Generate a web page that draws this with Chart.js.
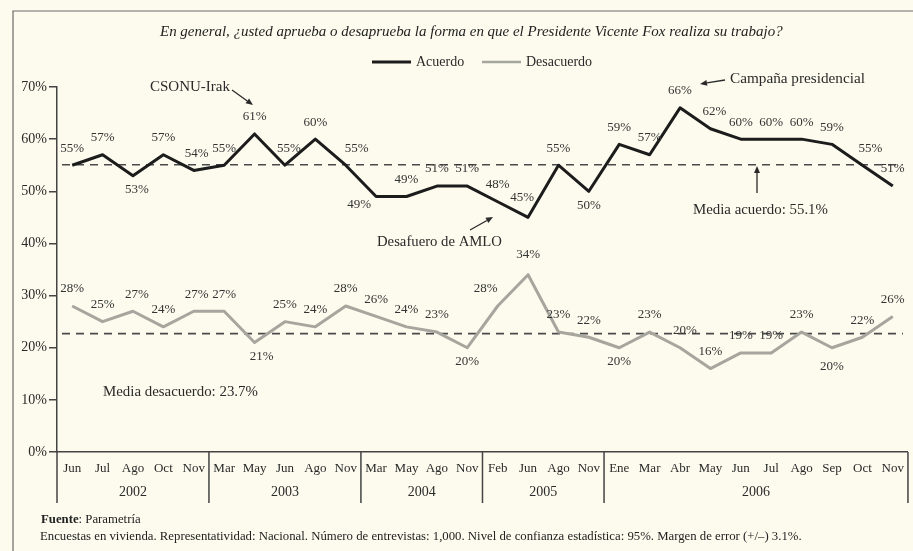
<!DOCTYPE html>
<html>
<head>
<meta charset="utf-8">
<script src="https://cdn.jsdelivr.net/npm/chart.js@4.4.1/dist/chart.umd.min.js"></script>
<style>
  html, body { margin: 0; padding: 0; background: #fcfbee; }
  #wrap { width: 913px; height: 551px; position: relative; }
  canvas { display: block; }
</style>
</head>
<body>
<div id="wrap"><canvas id="c" width="913" height="551"></canvas></div>
<script>
// ---------------- DATA ----------------
const MONTHS = ['Jun','Jul','Ago','Oct','Nov',
                'Mar','May','Jun','Ago','Nov',
                'Mar','May','Ago','Nov',
                'Feb','Jun','Ago','Nov',
                'Ene','Mar','Abr','May','Jun','Jul','Ago','Sep','Oct','Nov'];
const YEARS = ['2002','2003','2004','2005','2006'];
const YEAR_SIZES = [5, 5, 4, 4, 10];
const ACUERDO = [55,57,53,57,54, 55,61,55,60,55, 49,49,51,51, 48,45,55,50, 59,57,66,62,60,60,60,59,55,51];
const DESACUERDO = [28,25,27,24,27, 27,21,25,24,28, 26,24,23,20, 28,34,23,22, 20,23,20,16,19,19,23,20,22,26];
const Y_TICKS = [0,10,20,30,40,50,60,70];
const MEDIA_ACUERDO = 55.1;
const MEDIA_DESACUERDO = 23.7;
const MEDIA_DESACUERDO_DRAWN = 22.7;   // where the dashed line sits in the picture

const TITLE = 'En general, ¿usted aprueba o desaprueba la forma en que el Presidente Vicente Fox realiza su trabajo?';
const SERIES_NAMES = ['Acuerdo', 'Desacuerdo'];
const FOOT_SOURCE = ['Fuente', ': Parametría'];
const FOOT_NOTE = 'Encuestas en vivienda. Representatividad: Nacional. Número de entrevistas: 1,000. Nivel de confianza estadística: 95%. Margen de error (+/–) 3.1%.';

// ---------------- LABEL PLACEMENT (style only) ----------------
const ACUERDO_SIDE    = 'aabaaaaaaabaaaaaabaaaaaaaaaa';
const DESACUERDO_SIDE = 'aaaaaabaaaaaabaaaabaaaaaabaa';
const ACUERDO_DX = {2:4, 4:3, 7:4, 9:11, 10:-17, 15:-6, 21:4, 26:8};
const ACUERDO_DY = {10:-6, 15:-3};
const DESACUERDO_DX = {2:4, 4:3, 6:7, 14:-12, 20:5};
const DESACUERDO_DY = {15:-3, 25:5};

const SERIF = '"Liberation Serif", "Times New Roman", serif';
const INK = '#2a2a2a';
const BG = '#fcfbee';

function fitSize(ctx, text, width, style) {
  ctx.font = style + ' 20px ' + SERIF;
  return 20 * width / ctx.measureText(text).width;
}
function fitText(ctx, text, x, y, width, style, align) {
  const s = fitSize(ctx, text, width, style);
  ctx.font = style + ' ' + s.toFixed(2) + 'px ' + SERIF;
  ctx.textAlign = align || 'left';
  ctx.textBaseline = 'middle';
  ctx.fillText(text, x, y);
}
function arrow(ctx, x1, y1, x2, y2) {
  const a = Math.atan2(y2 - y1, x2 - x1), L = 7, W = 3;
  const bx = x2 - L * Math.cos(a), by = y2 - L * Math.sin(a);
  ctx.save();
  ctx.strokeStyle = INK; ctx.fillStyle = INK; ctx.lineWidth = 1.3;
  ctx.beginPath(); ctx.moveTo(x1, y1); ctx.lineTo(bx, by); ctx.stroke();
  ctx.beginPath(); ctx.moveTo(x2, y2);
  ctx.lineTo(bx + W * Math.sin(a), by - W * Math.cos(a));
  ctx.lineTo(bx - W * Math.sin(a), by + W * Math.cos(a));
  ctx.closePath(); ctx.fill();
  ctx.restore();
}

const bgPlugin = {
  id: 'bg',
  beforeDraw(chart) {
    const c = chart.ctx;
    c.save(); c.fillStyle = BG; c.fillRect(0, 0, chart.width, chart.height); c.restore();
  },
  beforeDatasetsDraw(chart) {
    const c = chart.ctx, ca = chart.chartArea, y = chart.scales.y;
    c.save();
    c.strokeStyle = '#4a4a4a'; c.lineWidth = 1.6; c.setLineDash([8, 6]);
    [MEDIA_ACUERDO, MEDIA_DESACUERDO_DRAWN].forEach(v => {
      const py = y.getPixelForValue(v);
      c.beginPath(); c.moveTo(ca.left + 5, py); c.lineTo(ca.right - 5, py); c.stroke();
    });
    c.restore();
  }
};

const overlay = {
  id: 'overlay',
  afterDraw(chart) {
    const c = chart.ctx, ca = chart.chartArea, xs = chart.scales.x, ys = chart.scales.y;
    c.save();
    // frame
    c.strokeStyle = '#6a6a6a'; c.lineWidth = 1.2;
    c.beginPath(); c.moveTo(913, 11); c.lineTo(13, 11); c.lineTo(13, 551); c.stroke();

    // x label box
    const boxBottom = 503;
    c.strokeStyle = '#444'; c.lineWidth = 1.5;
    c.beginPath();
    c.moveTo(ca.left, ca.bottom); c.lineTo(ca.left, boxBottom);
    c.moveTo(ca.right, ca.bottom); c.lineTo(ca.right, boxBottom);
    let idx = 0;
    const bounds = [ca.left];
    YEAR_SIZES.forEach((n, i) => {
      idx += n;
      if (i < YEAR_SIZES.length - 1) {
        const bx = (xs.getPixelForValue(idx - 1) + xs.getPixelForValue(idx)) / 2;
        bounds.push(bx);
        c.moveTo(bx, ca.bottom); c.lineTo(bx, boxBottom);
      }
    });
    bounds.push(ca.right);
    c.stroke();
    c.fillStyle = INK; c.font = '14px ' + SERIF; c.textAlign = 'center'; c.textBaseline = 'middle';
    YEARS.forEach((yr, i) => c.fillText(yr, (bounds[i] + bounds[i + 1]) / 2, 492));

    // data labels
    c.font = '13px ' + SERIF; c.fillStyle = '#333';
    const lab = (vals, side, dxm, dym) => {
      vals.forEach((v, i) => {
        const px = xs.getPixelForValue(i) + (dxm[i] || 0);
        const py = ys.getPixelForValue(v) + (side[i] === 'b' ? 14 : -17) + (dym[i] || 0);
        c.fillText(v + '%', px, py);
      });
    };
    lab(ACUERDO, ACUERDO_SIDE, ACUERDO_DX, ACUERDO_DY);
    lab(DESACUERDO, DESACUERDO_SIDE, DESACUERDO_DX, DESACUERDO_DY);

    // title
    c.fillStyle = '#222';
    fitText(c, TITLE, 160, 32, 623, 'italic', 'left');

    // legend
    c.lineWidth = 3; c.strokeStyle = '#1c1c1c';
    c.beginPath(); c.moveTo(372, 62); c.lineTo(411, 62); c.stroke();
    c.lineWidth = 2.5; c.strokeStyle = '#a6a69e';
    c.beginPath(); c.moveTo(482, 62); c.lineTo(521, 62); c.stroke();
    c.fillStyle = INK; c.font = '14px ' + SERIF; c.textAlign = 'left'; c.textBaseline = 'middle';
    c.fillText(SERIES_NAMES[0], 416, 62);
    c.fillText(SERIES_NAMES[1], 526, 62);

    // annotations
    fitText(c, 'CSONU-Irak', 150, 87, 80, 'normal', 'left');
    arrow(c, 232, 90, 253, 105);
    fitText(c, 'Campaña presidencial', 730, 79, 135, 'normal', 'left');
    arrow(c, 725, 80, 700, 84);
    fitText(c, 'Media acuerdo: ' + MEDIA_ACUERDO.toFixed(1) + '%', 693, 210, 135, 'normal', 'left');
    arrow(c, 757, 193, 757, 166);
    fitText(c, 'Desafuero de AMLO', 377, 242, 125, 'normal', 'left');
    arrow(c, 470, 230, 493, 217);
    fitText(c, 'Media desacuerdo: ' + MEDIA_DESACUERDO.toFixed(1) + '%', 103, 392, 155, 'normal', 'left');

    // footnotes
    const fs = fitSize(c, FOOT_NOTE, 762, 'normal');
    c.fillStyle = '#222'; c.textAlign = 'left'; c.textBaseline = 'middle';
    c.font = 'bold ' + fs.toFixed(2) + 'px ' + SERIF;
    c.fillText(FOOT_SOURCE[0], 41, 520);
    const w0 = c.measureText(FOOT_SOURCE[0]).width;
    c.font = fs.toFixed(2) + 'px ' + SERIF;
    c.fillText(FOOT_SOURCE[1], 41 + w0, 520);
    c.fillText(FOOT_NOTE, 40, 537);
    c.restore();
  }
};

new Chart(document.getElementById('c').getContext('2d'), {
  type: 'line',
  data: {
    labels: MONTHS,
    datasets: [
      { label: SERIES_NAMES[0], data: ACUERDO, borderColor: '#1c1c1c', borderWidth: 3,
        pointRadius: 0, tension: 0, borderJoinStyle: 'round', fill: false },
      { label: SERIES_NAMES[1], data: DESACUERDO, borderColor: '#a6a69e', borderWidth: 3,
        pointRadius: 0, tension: 0, borderJoinStyle: 'round', fill: false }
    ]
  },
  options: {
    responsive: false,
    animation: false,
    devicePixelRatio: 1,
    layout: { padding: { left: 0, right: 2, top: 87, bottom: 0 } },
    plugins: { legend: { display: false }, title: { display: false }, tooltip: { enabled: false } },
    scales: {
      x: {
        type: 'category',
        offset: true,
        grid: { display: true, drawOnChartArea: false, drawTicks: false },
        border: { display: true, color: '#444', width: 1.5 },
        ticks: { autoSkip: false, maxRotation: 0, padding: 9, color: INK,
                 font: { family: SERIF, size: 13 } },
        afterFit(s) { s.height = 99; }
      },
      y: {
        min: 0, max: 70,
        afterBuildTicks(s) { s.ticks = Y_TICKS.map(v => ({ value: v })); },
        grid: { display: true, drawOnChartArea: false, drawTicks: true, tickLength: 8, color: '#444', lineWidth: 1.5 },
        border: { display: true, color: '#444', width: 1.5 },
        ticks: { padding: 2, color: INK, font: { family: SERIF, size: 14 },
                 callback: v => v + '%' },
        afterFit(s) { s.width = 57; }
      }
    }
  },
  plugins: [bgPlugin, overlay]
});
</script>
</body>
</html>
